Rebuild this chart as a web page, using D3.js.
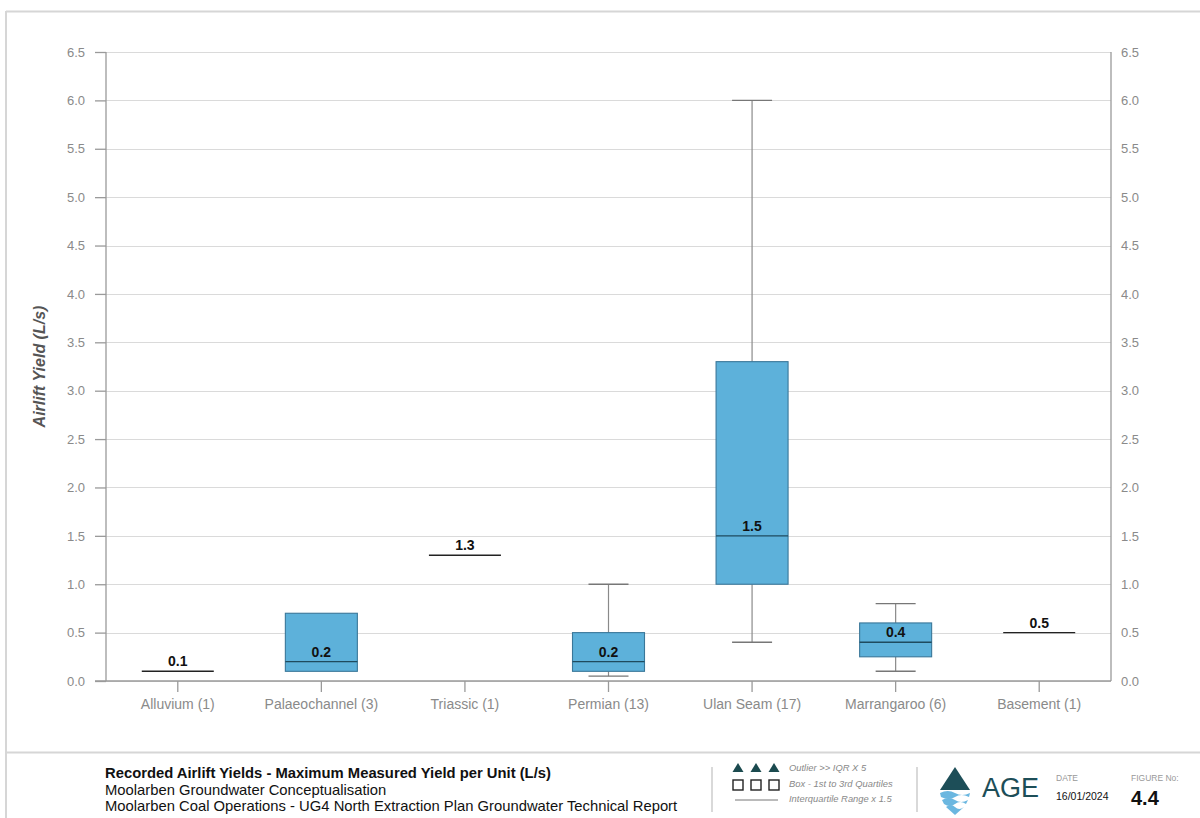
<!DOCTYPE html>
<html>
<head>
<meta charset="utf-8">
<script src="https://cdn.jsdelivr.net/npm/d3@7"></script>
<style>
  html, body { margin: 0; padding: 0; background: #fff; }
  svg { display: block; font-family: "Liberation Sans", Arial, sans-serif; }
</style>
</head>
<body>
<svg id="chart" width="1200" height="818"></svg>
<script>
// ---- data ----
const categories = ["Alluvium (1)", "Palaeochannel (3)", "Triassic (1)", "Permian (13)", "Ulan Seam (17)", "Marrangaroo (6)", "Basement (1)"];
const minVals    = [0.1, 0.1, 1.3, 0.05, 0.4, 0.1, 0.5];
const q1Vals     = [0.1, 0.1, 1.3, 0.1,  1.0, 0.25, 0.5];
const medianVals = [0.1, 0.2, 1.3, 0.2,  1.5, 0.4, 0.5];
const q3Vals     = [0.1, 0.7, 1.3, 0.5,  3.3, 0.6, 0.5];
const maxVals    = [0.1, 0.7, 1.3, 1.0,  6.0, 0.8, 0.5];
const yTicks = [0, 0.5, 1.0, 1.5, 2.0, 2.5, 3.0, 3.5, 4.0, 4.5, 5.0, 5.5, 6.0, 6.5];
const yTitle = "Airlift Yield (L/s)";
const footerLines = ["Recorded Airlift Yields - Maximum Measured Yield per Unit (L/s)", "Moolarben Groundwater Conceptualisation", "Moolarben Coal Operations - UG4 North Extraction Plan Groundwater Technical Report"];
const legendTexts = ["Outlier >> IQR X 5", "Box - 1st to 3rd Quartiles", "Interquartile Range x 1.5"];
const dateText = "16/01/2024";
const figureNo = "4.4";

const rows = categories.map((c, i) => ({cat: c, min: minVals[i], q1: q1Vals[i], med: medianVals[i], q3: q3Vals[i], max: maxVals[i]}));

// ---- layout ----
const svg = d3.select("#chart");
const L = 106, R = 1111, T = 52, B = 681;
const y = d3.scaleLinear().domain([0, 6.5]).range([B, T]);
const x = d3.scaleBand().domain(categories).range([L, R]).padding(0);
const bw = 72, capW = 40;

// frame
svg.append("line").attr("x1", 6).attr("x2", 1200).attr("y1", 11.5).attr("y2", 11.5).attr("stroke", "#d6d6d6").attr("stroke-width", 2);
svg.append("line").attr("x1", 6).attr("x2", 6).attr("y1", 11).attr("y2", 818).attr("stroke", "#d6d6d6").attr("stroke-width", 2);
svg.append("line").attr("x1", 6).attr("x2", 1200).attr("y1", 752.5).attr("y2", 752.5).attr("stroke", "#d6d6d6").attr("stroke-width", 2);

// gridlines
svg.append("g").selectAll("line").data(yTicks).join("line")
  .attr("x1", L).attr("x2", R)
  .attr("y1", d => Math.round(y(d)) + 0.5).attr("y2", d => Math.round(y(d)) + 0.5)
  .attr("stroke", "#dadada").attr("stroke-width", 1);

// axes
const fmt = d3.format(".1f");
const gl = svg.append("g").attr("transform", `translate(${L},0)`)
  .call(d3.axisLeft(y).tickValues(yTicks).tickFormat(fmt).tickSize(11).tickPadding(10));
const gr = svg.append("g").attr("transform", `translate(${R},0)`)
  .call(d3.axisRight(y).tickValues(yTicks).tickFormat(fmt).tickSize(0).tickPadding(10));
const gb = svg.append("g").attr("transform", `translate(0,${B})`)
  .call(d3.axisBottom(x).tickSize(11).tickPadding(7));
[gl, gr, gb].forEach(g => {
  g.select(".domain").attr("stroke", "#9a9a9a").attr("stroke-width", 1.3);
  g.selectAll(".tick line").attr("stroke", "#9a9a9a").attr("stroke-width", 1.3);
  g.selectAll(".tick text").attr("fill", "#8a8a8a").attr("font-family", "Liberation Sans, Arial, sans-serif");
});
gl.selectAll(".tick text").attr("font-size", 13);
gr.selectAll(".tick text").attr("font-size", 13);
gb.selectAll(".tick text").attr("font-size", 14);
gl.select(".domain").attr("d", `M0,${B}V${T}`);
gr.select(".domain").attr("d", `M0,${B}V${T}`);
gb.select(".domain").attr("d", `M${L - 11},0H${R}`);

// y title
svg.append("text").attr("transform", `translate(45,${(T + B) / 2}) rotate(-90)`)
  .attr("text-anchor", "middle").attr("font-size", 16).attr("font-weight", "bold").attr("font-style", "italic")
  .attr("fill", "#555").text(yTitle);

// boxes
const g = svg.append("g");
rows.forEach(r => {
  const cx = x(r.cat) + x.bandwidth() / 2;
  if (r.q3 > r.q1) {
    if (r.max > r.q3) {
      g.append("line").attr("x1", cx).attr("x2", cx).attr("y1", y(r.q3)).attr("y2", y(r.max)).attr("stroke", "#8a8a8a").attr("stroke-width", 1.2);
      g.append("line").attr("x1", cx - capW / 2).attr("x2", cx + capW / 2).attr("y1", y(r.max)).attr("y2", y(r.max)).attr("stroke", "#777").attr("stroke-width", 1.4);
    }
    if (r.min < r.q1) {
      g.append("line").attr("x1", cx).attr("x2", cx).attr("y1", y(r.q1)).attr("y2", y(r.min)).attr("stroke", "#8a8a8a").attr("stroke-width", 1.2);
      g.append("line").attr("x1", cx - capW / 2).attr("x2", cx + capW / 2).attr("y1", y(r.min)).attr("y2", y(r.min)).attr("stroke", "#777").attr("stroke-width", 1.4);
    }
    g.append("rect").attr("x", cx - bw / 2).attr("width", bw)
      .attr("y", y(r.q3)).attr("height", y(r.q1) - y(r.q3))
      .attr("fill", "#5db1da").attr("stroke", "#3a7799").attr("stroke-width", 1.1);
    g.append("line").attr("x1", cx - bw / 2).attr("x2", cx + bw / 2).attr("y1", y(r.med)).attr("y2", y(r.med))
      .attr("stroke", "#1f4b5e").attr("stroke-width", 1.4);
  } else {
    g.append("line").attr("x1", cx - bw / 2).attr("x2", cx + bw / 2).attr("y1", y(r.med)).attr("y2", y(r.med))
      .attr("stroke", "#222").attr("stroke-width", 1.4);
  }
  g.append("text").attr("x", cx).attr("y", y(r.med) - 5).attr("text-anchor", "middle")
    .attr("font-size", 14).attr("font-weight", "bold").attr("fill", "#111").text(fmt(r.med));
});

// footer text
const ft = svg.append("g");
footerLines.forEach((t, i) => {
  ft.append("text").attr("x", 105).attr("y", 778 + i * 16.5).attr("font-size", 14.8)
    .attr("font-weight", i === 0 ? "bold" : "normal").attr("fill", "#111").text(t);
});

// legend
const lg = svg.append("g");
lg.append("line").attr("x1", 712).attr("x2", 712).attr("y1", 767).attr("y2", 812).attr("stroke", "#ccc").attr("stroke-width", 1.5);
lg.append("line").attr("x1", 917).attr("x2", 917).attr("y1", 767).attr("y2", 812).attr("stroke", "#ccc").attr("stroke-width", 1.5);
[738, 756, 774].forEach(px => {
  lg.append("path").attr("d", `M${px},763 L${px + 5.5},772 L${px - 5.5},772 Z`).attr("fill", "#1b4a4f");
  lg.append("rect").attr("x", px - 5).attr("y", 780).attr("width", 10).attr("height", 10).attr("fill", "none").attr("stroke", "#222").attr("stroke-width", 1.4);
});
lg.append("line").attr("x1", 735).attr("x2", 778).attr("y1", 800).attr("y2", 800).attr("stroke", "#777").attr("stroke-width", 1);
legendTexts.forEach((t, i) => {
  lg.append("text").attr("x", 789).attr("y", 771 + i * 15.5).attr("font-size", 9.4).attr("font-style", "italic")
    .attr("fill", "#888").text(t);
});

// logo
const lo = svg.append("g");
lo.append("path").attr("d", "M955,767 L970,790 L940,790 Z").attr("fill", "#1d4e58");
lo.append("path").attr("d", "M940,793 Q948,789 955,793 T970,793 L969,797 Q961,793 955,797 T941,797 Z").attr("fill", "#6bb7e0");
lo.append("path").attr("d", "M942,800 Q949,796 955,800 T968,800 L966,804 Q960,800 955,804 T944,804 Z").attr("fill", "#6bb7e0");
lo.append("path").attr("d", "M946,807 Q951,803 955,807 T964,807 L955,815 Z").attr("fill", "#6bb7e0");
lo.append("text").attr("x", 982).attr("y", 797).attr("font-size", 27).attr("fill", "#1d4e58").text("AGE");

// date & figure
svg.append("text").attr("x", 1056).attr("y", 781).attr("font-size", 8.5).attr("fill", "#999").text("DATE");
svg.append("text").attr("x", 1056).attr("y", 800).attr("font-size", 10.5).attr("fill", "#111").text(dateText);
svg.append("text").attr("x", 1131).attr("y", 781).attr("font-size", 8.5).attr("fill", "#999").text("FIGURE No:");
svg.append("text").attr("x", 1131).attr("y", 805).attr("font-size", 20).attr("font-weight", "bold").attr("fill", "#111").text(figureNo);
</script>
</body>
</html>
